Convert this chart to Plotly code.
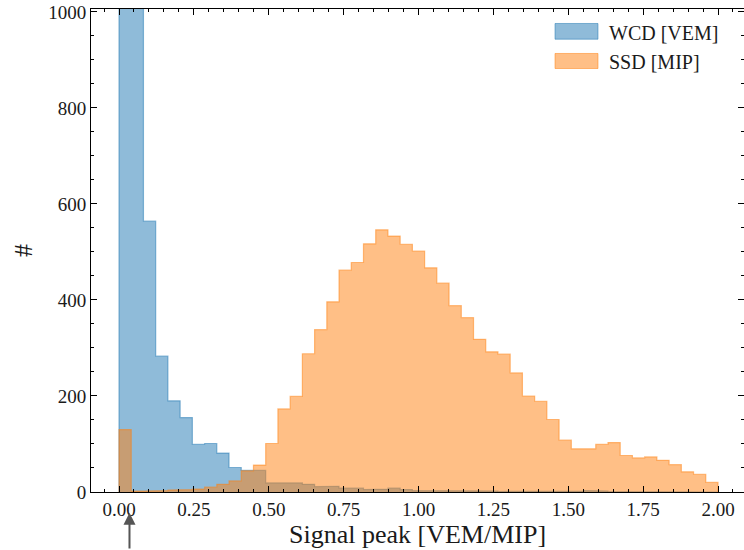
import numpy as np
import plotly.graph_objects as go

# ---- data -------------------------------------------------------------
BIN_LO, BIN_HI, N_BINS = 0.0, 2.0, 49
wcd_counts = [2600, 1400, 564, 283, 190, 155, 99, 101, 81, 51,
              45, 45, 19, 18, 19, 16, 11, 12, 8, 8,
              5, 6, 8, 5, 3, 3, 2, 2, 2, 2,
              2, 1, 2, 1, 2, 1, 1, 2, 3, 2,
              1, 1, 1, 1, 0, 1, 0, 1, 0]
ssd_counts = [130, 2, 2, 3, 4, 5, 6, 10, 16, 23,
              44, 56, 101, 173, 199, 288, 338, 396, 462, 478,
              517, 546, 533, 516, 502, 467, 435, 388, 363, 318,
              292, 287, 248, 200, 189, 151, 108, 90, 90, 99,
              103, 76, 71, 73, 66, 57, 42, 37, 20]
series_names = ["WCD [VEM]", "SSD [MIP]"]
x_ticks = [0.0, 0.25, 0.5, 0.75, 1.0, 1.25, 1.5, 1.75, 2.0]
y_ticks = [0, 200, 400, 600, 800, 1000]
arrow_x = 0.035

edges = np.linspace(BIN_LO, BIN_HI, N_BINS + 1)


def step_xy(counts):
    c = np.asarray(counts, dtype=float)
    xs = np.concatenate([[edges[0]], np.repeat(edges, 2)[1:-1], [edges[-1]]])
    ys = np.concatenate([[0.0], np.repeat(c, 2), [0.0]])
    return xs, ys


BLUE = (31, 119, 180)
ORANGE = (255, 127, 14)


def rgba(c, a):
    return f"rgba({c[0]},{c[1]},{c[2]},{a})"


fig = go.Figure()
for counts, col, name in [(wcd_counts, BLUE, series_names[0]),
                          (ssd_counts, ORANGE, series_names[1])]:
    xs, ys = step_xy(counts)
    fig.add_trace(go.Scatter(x=xs, y=ys, mode="lines", fill="tozeroy",
                             fillcolor=rgba(col, 0.5),
                             line=dict(color=rgba(col, 0.5), width=1.2),
                             name=name, showlegend=False, hoverinfo="skip"))

FONT = "Liberation Serif"
TXT = "#1a1a1a"

# manual legend (swatches + text)
leg = [(series_names[0], BLUE, 0.9375, 0.9700, 0.9513),
       (series_names[1], ORANGE, 0.8768, 0.9079, 0.8913)]
for name, col, y0, y1, yt in leg:
    fig.add_shape(type="rect", xref="paper", yref="paper",
                  x0=0.7106, x1=0.7764, y0=y0, y1=y1,
                  fillcolor=rgba(col, 0.5), line=dict(color=rgba(col, 0.5), width=1))
    fig.add_annotation(xref="paper", yref="paper", x=0.7902, y=yt,
                       xanchor="left", yanchor="middle", text=name,
                       showarrow=False, font=dict(family=FONT, size=20, color=TXT))

# arrow below x axis
fig.add_annotation(x=arrow_x, xref="x", y=-0.043, yref="paper",
                   ax=0, ay=42, axref="pixel", ayref="pixel",
                   showarrow=True, arrowhead=2, arrowsize=1.2, arrowwidth=2,
                   arrowcolor="#555555", text="")

axis_common = dict(showline=True, linecolor="black", linewidth=1,
                   ticks="inside", ticklen=6, tickwidth=1, tickcolor="black",
                   showgrid=False, zeroline=False,
                   tickfont=dict(family=FONT, size=19, color=TXT))

fig.update_layout(
    xaxis=dict(range=[-0.0935, 2.0868], tickvals=x_ticks,
               ticktext=[f"{v:.2f}" for v in x_ticks], mirror="ticks",
               minor=dict(ticks="inside", ticklen=3, dtick=0.05, tick0=0,
                          tickcolor="black", showgrid=False),
               title=dict(text="Signal peak [VEM/MIP]",
                          font=dict(family=FONT, size=26, color=TXT), standoff=0),
               **axis_common),
    yaxis=dict(range=[0, 1006], tickvals=y_ticks, mirror=False,
               minor=dict(ticks="inside", ticklen=3, dtick=50, tick0=0,
                          tickcolor="black", showgrid=False),
               title=dict(text="#", font=dict(family=FONT, size=26, color=TXT),
                          standoff=8),
               **axis_common),
    yaxis2=dict(range=[0, 1006], tickvals=y_ticks, overlaying="y", side="right",
                showline=False, showgrid=False, zeroline=False, showticklabels=False,
                ticks="inside", ticklen=6, tickwidth=1, tickcolor="black",
                minor=dict(ticks="inside", ticklen=3, dtick=50, tick0=0,
                           tickcolor="black", showgrid=False)),
    width=744, height=550,
    margin=dict(l=91, r=0, t=9, b=58),
    paper_bgcolor="white", plot_bgcolor="white",
    showlegend=False)

# invisible anchor trace so the right-hand tick axis is drawn
fig.add_trace(go.Scatter(x=[None], y=[None], yaxis="y2", showlegend=False,
                         hoverinfo="skip"))

fig.write_html("out.html")
